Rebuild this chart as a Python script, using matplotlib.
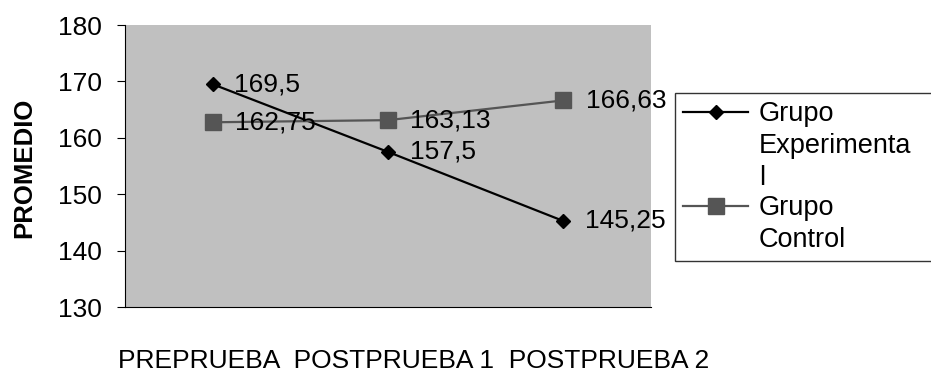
import matplotlib

matplotlib.use("Agg")
import matplotlib.pyplot as plt

plt.rcParams["font.family"] = ["Liberation Sans", "DejaVu Sans"]

categories = ["PREPRUEBA", "POSTPRUEBA 1", "POSTPRUEBA 2"]
experimental = [169.5, 157.5, 145.25]
control = [162.75, 163.13, 166.63]
exp_labels = ["169,5", "157,5", "145,25"]
ctl_labels = ["162,75", "163,13", "166,63"]
yticks = [130, 140, 150, 160, 170, 180]

FS = 19

fig = plt.figure(figsize=(9.31, 3.74), dpi=100)
ax = fig.add_axes([125 / 931, 1 - 307 / 374, (651 - 125) / 931, (307 - 25) / 374])
ax.set_facecolor("#c0c0c0")

x = list(range(len(categories)))
l1, = ax.plot(x, experimental, color="black", lw=1.6, marker="D", ms=7.5,
              label="Grupo\nExperimenta\nl")
l2, = ax.plot(x, control, color="#555555", lw=1.6, marker="s", ms=11.5,
              label="Grupo\nControl")

for xi, v, t in zip(x, experimental, exp_labels):
    ax.annotate(t, (xi, v), xytext=(15.5, 0), textcoords="offset points",
                va="center", ha="left", fontsize=FS)
for xi, v, t in zip(x, control, ctl_labels):
    ax.annotate(t, (xi, v), xytext=(16, 0), textcoords="offset points",
                va="center", ha="left", fontsize=FS)

ax.set_xlim(-0.5, len(categories) - 0.5)
ax.set_ylim(130, 180)
ax.set_yticks(yticks)
ax.tick_params(axis="y", labelsize=FS, length=6, direction="out", pad=10.5)
ax.set_xticks([])
for s in ["top", "right"]:
    ax.spines[s].set_visible(False)
ax.set_ylabel("PROMEDIO", fontsize=18.5, fontweight="bold")
ax.yaxis.set_label_coords((24 - 125) / 526, (307 - 168) / 282)
ax.yaxis.label.set_verticalalignment("center")

fig.text(118 / 931, 1 - 361 / 374, "  ".join(categories), fontsize=FS,
         ha="left", va="center")

# legend box runs off the right edge like in the original
leg = fig.legend(handles=[l1, l2], loc="upper left", mode="expand",
                 bbox_to_anchor=(675 / 931, 1 - 93 / 374, 300 / 931, 0),
                 fontsize=19.5, frameon=True, fancybox=False, edgecolor="black",
                 handlelength=2.4, handleheight=1.0, handletextpad=0.4,
                 borderaxespad=0, labelspacing=0.15, borderpad=0.3)
leg.get_frame().set_linewidth(1.0)
for t in leg.get_texts():
    t.set_linespacing(1.3)
# align each handle with the first line of its label
for col in leg._legend_handle_box.get_children():
    for row in col.get_children():
        row.align = "top"

fig.savefig("out.png", dpi=100)
